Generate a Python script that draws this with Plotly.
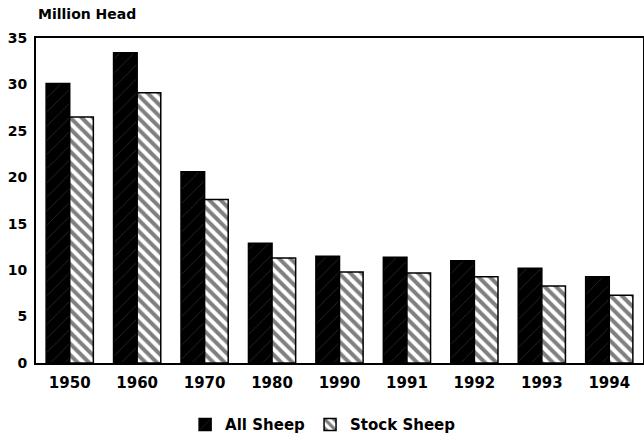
import plotly.graph_objects as go

years = ["1950", "1960", "1970", "1980", "1990", "1991", "1992", "1993", "1994"]
all_sheep = [30.1, 33.4, 20.6, 12.9, 11.5, 11.4, 11.0, 10.2, 9.3]
stock_sheep = [26.5, 29.1, 17.6, 11.3, 9.8, 9.7, 9.3, 8.3, 7.3]
y_ticks = [0, 5, 10, 15, 20, 25, 30, 35]

FONT = "DejaVu Sans"

fig = go.Figure()
fig.add_trace(go.Bar(
    x=years, y=all_sheep, name="All Sheep",
    marker=dict(color="black", line=dict(color="black", width=1.5),
                pattern=dict(shape="/", bgcolor="black", fgcolor="#777777",
                             size=10, solidity=0.06)),
))
fig.add_trace(go.Bar(
    x=years, y=stock_sheep, name="Stock Sheep",
    marker=dict(color="white", line=dict(color="black", width=1.5),
                pattern=dict(shape="\\", bgcolor="white", fgcolor="black",
                             size=8, solidity=0.5)),
))

fig.update_layout(
    width=644, height=441,
    margin=dict(l=36, r=1, t=38, b=78, autoexpand=False),
    paper_bgcolor="white", plot_bgcolor="white",
    barmode="group", bargap=0.3, bargroupgap=0.0,
    font=dict(family=FONT, size=14, color="black", weight="bold"),
    showlegend=True,
    legend=dict(orientation="h", x=0.473, xanchor="center", y=-0.19, yanchor="middle",
                font=dict(family=FONT, size=15, color="black", weight="bold"),
                itemwidth=30, tracegroupgap=0),
)
fig.add_annotation(text="Million Head", xref="paper", yref="paper",
                   x=0.0, y=1.074, xanchor="left", yanchor="middle", showarrow=False,
                   font=dict(family=FONT, size=14, color="black", weight="bold"))

fig.update_xaxes(showline=True, linecolor="black", linewidth=2, mirror=True,
                 ticks="", showgrid=False, tickfont=dict(size=15),
                 ticklabelstandoff=5)
fig.update_yaxes(range=[0, 35], tickvals=y_ticks, showline=True, linecolor="black",
                 linewidth=2, mirror=True, ticks="", showgrid=False, zeroline=False,
                 tickfont=dict(size=14), ticklabelstandoff=4)

fig.write_html("out.html", config={"displayModeBar": False},
               post_script="document.body.style.margin='0';")
